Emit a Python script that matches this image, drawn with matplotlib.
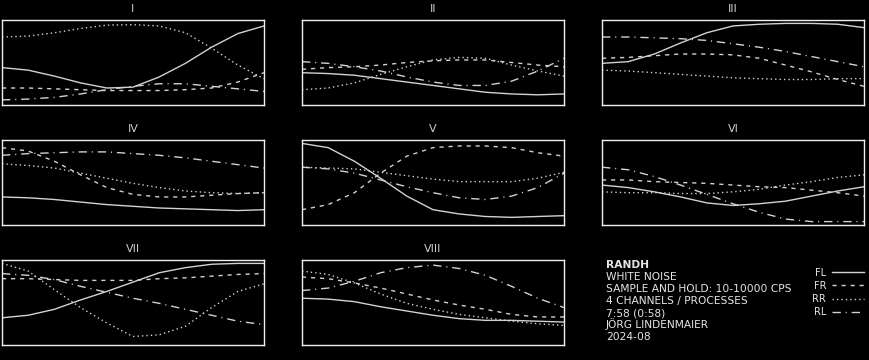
import numpy as np
import matplotlib.pyplot as plt

# panel titles and channel names
titles = ['I', 'II', 'III', 'IV', 'V', 'VI', 'VII', 'VIII']
channels = ['FL', 'FR', 'RR', 'RL']

# x positions of the read values (fraction of the time span)
x = [0.0, 0.1, 0.2, 0.3, 0.4, 0.5, 0.6, 0.7, 0.8, 0.9, 1.0]

# values per panel (0 = bottom, 1 = top)
FL = [
    [0.44, 0.41, 0.34, 0.26, 0.20, 0.21, 0.33, 0.49, 0.68, 0.84, 0.93],
    [0.38, 0.37, 0.35, 0.31, 0.27, 0.23, 0.19, 0.15, 0.13, 0.12, 0.13],
    [0.49, 0.51, 0.60, 0.73, 0.85, 0.93, 0.95, 0.96, 0.96, 0.95, 0.91],
    [0.33, 0.32, 0.30, 0.27, 0.24, 0.22, 0.20, 0.19, 0.18, 0.17, 0.18],
    [0.96, 0.91, 0.75, 0.55, 0.34, 0.18, 0.13, 0.10, 0.09, 0.10, 0.11],
    [0.47, 0.44, 0.39, 0.33, 0.26, 0.23, 0.25, 0.28, 0.34, 0.40, 0.45],
    [0.32, 0.35, 0.42, 0.53, 0.63, 0.74, 0.85, 0.91, 0.95, 0.96, 0.96],
    [0.55, 0.54, 0.51, 0.45, 0.40, 0.35, 0.31, 0.29, 0.29, 0.28, 0.27],
]
FR = [
    [0.20, 0.20, 0.19, 0.18, 0.17, 0.17, 0.17, 0.18, 0.20, 0.27, 0.38],
    [0.42, 0.44, 0.45, 0.47, 0.50, 0.52, 0.53, 0.53, 0.50, 0.47, 0.45],
    [0.55, 0.56, 0.58, 0.60, 0.60, 0.59, 0.55, 0.47, 0.39, 0.30, 0.22],
    [0.91, 0.87, 0.75, 0.59, 0.44, 0.36, 0.33, 0.33, 0.35, 0.37, 0.38],
    [0.18, 0.24, 0.38, 0.61, 0.81, 0.91, 0.93, 0.93, 0.91, 0.85, 0.81],
    [0.53, 0.53, 0.51, 0.50, 0.49, 0.47, 0.45, 0.44, 0.41, 0.38, 0.34],
    [0.78, 0.78, 0.77, 0.76, 0.76, 0.76, 0.78, 0.79, 0.81, 0.83, 0.84],
    [0.80, 0.78, 0.73, 0.67, 0.60, 0.53, 0.47, 0.42, 0.36, 0.33, 0.33],
]
RR = [
    [0.80, 0.81, 0.85, 0.90, 0.94, 0.945, 0.93, 0.85, 0.67, 0.47, 0.31],
    [0.18, 0.20, 0.26, 0.36, 0.45, 0.53, 0.56, 0.55, 0.47, 0.40, 0.34],
    [0.41, 0.40, 0.38, 0.36, 0.34, 0.32, 0.31, 0.30, 0.30, 0.31, 0.31],
    [0.72, 0.70, 0.67, 0.61, 0.55, 0.49, 0.44, 0.40, 0.38, 0.37, 0.38],
    [0.68, 0.67, 0.66, 0.62, 0.58, 0.54, 0.51, 0.51, 0.51, 0.55, 0.62],
    [0.39, 0.38, 0.38, 0.37, 0.37, 0.39, 0.42, 0.47, 0.51, 0.56, 0.59],
    [0.96, 0.87, 0.65, 0.44, 0.26, 0.10, 0.12, 0.22, 0.44, 0.63, 0.72],
    [0.87, 0.83, 0.73, 0.60, 0.49, 0.42, 0.36, 0.32, 0.28, 0.25, 0.23],
]
RL = [
    [0.06, 0.07, 0.09, 0.13, 0.18, 0.22, 0.25, 0.25, 0.22, 0.19, 0.16],
    [0.51, 0.49, 0.45, 0.40, 0.33, 0.27, 0.23, 0.23, 0.28, 0.40, 0.55],
    [0.80, 0.80, 0.79, 0.78, 0.76, 0.72, 0.68, 0.63, 0.57, 0.51, 0.45],
    [0.82, 0.84, 0.85, 0.86, 0.86, 0.84, 0.82, 0.79, 0.75, 0.71, 0.67],
    [0.68, 0.66, 0.61, 0.53, 0.45, 0.38, 0.32, 0.30, 0.34, 0.44, 0.61],
    [0.68, 0.65, 0.57, 0.47, 0.36, 0.25, 0.15, 0.07, 0.04, 0.04, 0.04],
    [0.84, 0.82, 0.77, 0.69, 0.62, 0.55, 0.49, 0.42, 0.35, 0.28, 0.24],
    [0.64, 0.67, 0.75, 0.85, 0.91, 0.94, 0.90, 0.82, 0.69, 0.55, 0.44],
]

info = ['WHITE NOISE', 'SAMPLE AND HOLD: 10-10000 CPS', '4 CHANNELS / PROCESSES',
        '7:58 (0:58)', 'JÖRG LINDENMAIER', '2024-08']

W, H = 870, 360
fg = '#e6e6e6'
lc = '#d2d2d2'
styles = ['-', (0, (3, 3.5)), (0, (1, 2.2)), (0, (6, 3.5, 0.8, 3.5))]

fig = plt.figure(figsize=(W / 100, H / 100), dpi=100, facecolor='black')

handles = []
for i, t in enumerate(titles):
    r, c = divmod(i, 3)
    left = 2 + 300 * c
    top = 20 + 120 * r
    ax = fig.add_axes([left / W, 1 - (top + 85) / H, 262 / W, 85 / H])
    ax.set_facecolor('black')
    for k, series in enumerate([FL, FR, RR, RL]):
        ln, = ax.plot(x, series[i], color=lc, lw=1.0, linestyle=styles[k])
        if i == 0:
            handles.append(ln)
    ax.set_xlim(0, 1)
    ax.set_ylim(0, 1)
    ax.set_xticks([])
    ax.set_yticks([])
    for s in ax.spines.values():
        s.set_color('#f0f0f0')
        s.set_linewidth(1.0)
    ax.set_title(t, color='#cccccc', fontsize=8, pad=6)

# text block
fig.text(606 / W, 1 - 268 / H, 'RANDH', color=fg, fontsize=7.7, fontweight='bold', va='baseline')
for j, line in enumerate(info):
    fig.text(606 / W, 1 - (280 + 12 * j) / H, line, color=fg, fontsize=7.7, va='baseline')

leg = fig.legend(handles, channels, loc='upper right', bbox_to_anchor=(864 / W, 1 - 267.5 / H),
                 frameon=False, markerfirst=False, fontsize=7, handlelength=3.3,
                 handletextpad=0.6, labelspacing=0.33, borderaxespad=0, borderpad=0)
for txt in leg.get_texts():
    txt.set_color(fg)

fig.savefig('out.png', dpi=100, facecolor='black')
